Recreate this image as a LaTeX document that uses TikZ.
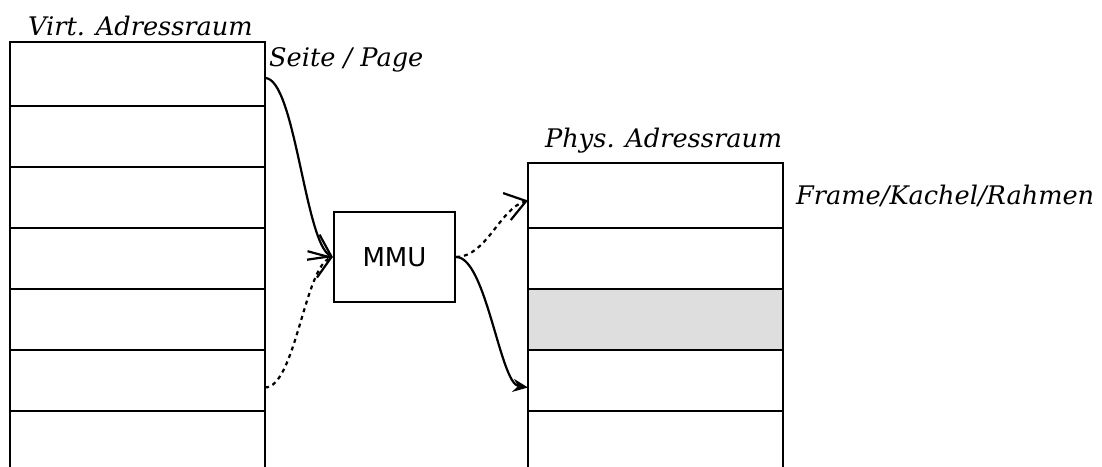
\documentclass[tikz,border=0pt]{standalone}
\usepackage{fontspec}
\setmainfont{DejaVu Serif}
\setsansfont{DejaVu Sans}
\usetikzlibrary{arrows.meta,calc}

\tikzset{
  row/.style={draw, line width=2.2pt, minimum width=255pt, inner sep=0pt, outer sep=0pt, anchor=north west},
  mmubox/.style={draw, line width=2.2pt, minimum width=121pt, minimum height=90pt, inner sep=0pt, font=\sffamily\fontsize{26}{30}\selectfont},
  lbl/.style={font=\itshape\fontsize{25.6}{30}\selectfont, inner sep=0pt, anchor=base west},
  conn/.style={line width=2.2pt},
  openhead/.style={-{Straight Barb[length=20pt,width=28pt,line width=2.2pt]}},
  fullhead/.style={-{Stealth[length=15pt,width=13pt]}},
  dots/.style={dash pattern=on 4pt off 4pt}
}

\begin{document}
\begin{tikzpicture}[x=1pt,y=-1pt]
  \useasboundingbox (0,0) rectangle (1102,466);

  % virtual address space: pages
  \node[row, minimum height=64pt] (v1) at (10,42) {};
  \node[row, minimum height=61pt] (v2) at (10,106) {};
  \node[row, minimum height=61pt] (v3) at (10,167) {};
  \node[row, minimum height=61pt] (v4) at (10,228) {};
  \node[row, minimum height=61pt] (v5) at (10,289) {};
  \node[row, minimum height=61pt] (v6) at (10,350) {};
  \draw[line width=2.2pt] (v6.south west) -- (10,470);
  \draw[line width=2.2pt] (v6.south east) -- (265,470);

  % physical address space: frames
  \node[row, minimum height=65pt] (p1) at (528,163) {};
  \node[row, minimum height=61pt] (p2) at (528,228) {};
  \node[row, minimum height=61pt, fill=black!13] (p3) at (528,289) {};
  \node[row, minimum height=61pt] (p4) at (528,350) {};
  \draw[line width=2.2pt] (p4.south west) -- (528,470);
  \draw[line width=2.2pt] (p4.south east) -- (783,470);

  % MMU
  \node[mmubox] (mmu) at (394.5,257) {MMU};

  % labels
  \node[lbl] (lv) at (28,35) {Virt. Adressraum};
  \node[lbl] (lpage) at (269,66) {Seite / Page};
  \node[lbl] (lp) at (545,147) {Phys. Adressraum};
  \node[lbl] (lframe) at (796,204) {Frame/Kachel/Rahmen};

  % mappings
  \coordinate (vin) at ($(v1.east)+(0,4)$);
  \coordinate (vdot) at ($(v6.east)+(0,7)$);
  \coordinate (pdot) at ($(p1.west)+(0,5)$);
  \coordinate (psol) at ($(p4.west)+(0,7)$);

  \draw[conn, openhead] (vin) .. controls +(30,0) and +(-28,-14) .. (mmu.west);
  \draw[conn, dots, openhead] (vdot) .. controls +(30,0) and +(-28,10) .. (mmu.west);
  \draw[conn, dots, openhead] (mmu.east) .. controls +(30,0) and +(-28,8) .. (pdot);
  \draw[conn, fullhead] (mmu.east) .. controls +(30,0) and +(-28,-4) .. (psol);
\end{tikzpicture}
\end{document}
